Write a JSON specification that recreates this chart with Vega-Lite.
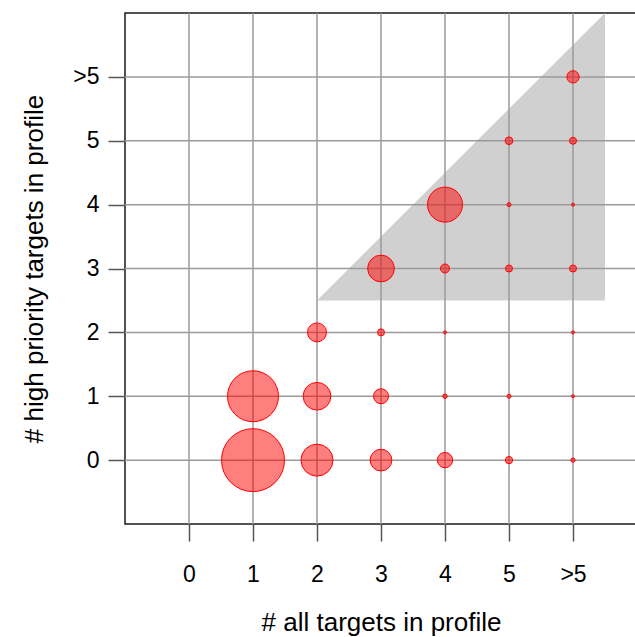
{
  "$schema": "https://vega.github.io/schema/vega-lite/v6.json",
  "width": 512,
  "height": 511,
  "autosize": {"type": "none"},
  "padding": {"left": 125, "top": 13, "right": 0, "bottom": 113},
  "background": "white",
  "config": {
    "view": {"stroke": "#1a1a1a", "strokeWidth": 1.5},
    "axis": {
      "grid": false,
      "domain": false,
      "ticks": true,
      "tickSize": 17,
      "tickColor": "#555555",
      "tickWidth": 1.5,
      "labelFont": "Liberation Sans",
      "labelFontSize": 23,
      "labelColor": "#000000",
      "titleFont": "Liberation Sans",
      "titleFontSize": 26,
      "titleFontWeight": "normal",
      "titleColor": "#000000"
    }
  },
  "datasets": {
    "pts": [
      {"all": 1, "high": 0, "n": 3969},
      {"all": 1, "high": 1, "n": 2601},
      {"all": 2, "high": 0, "n": 1024},
      {"all": 2, "high": 1, "n": 767},
      {"all": 2, "high": 2, "n": 361},
      {"all": 3, "high": 0, "n": 471},
      {"all": 3, "high": 1, "n": 225},
      {"all": 3, "high": 2, "n": 49},
      {"all": 3, "high": 3, "n": 713},
      {"all": 4, "high": 0, "n": 234},
      {"all": 4, "high": 1, "n": 20},
      {"all": 4, "high": 2, "n": 9},
      {"all": 4, "high": 3, "n": 81},
      {"all": 4, "high": 4, "n": 1225},
      {"all": 5, "high": 0, "n": 53},
      {"all": 5, "high": 1, "n": 16},
      {"all": 5, "high": 3, "n": 49},
      {"all": 5, "high": 4, "n": 16},
      {"all": 5, "high": 5, "n": 59},
      {"all": 6, "high": 0, "n": 18},
      {"all": 6, "high": 1, "n": 9},
      {"all": 6, "high": 2, "n": 9},
      {"all": 6, "high": 3, "n": 49},
      {"all": 6, "high": 4, "n": 9},
      {"all": 6, "high": 5, "n": 49},
      {"all": 6, "high": 6, "n": 151}
    ],
    "grid": [{"v": 0}, {"v": 1}, {"v": 2}, {"v": 3}, {"v": 4}, {"v": 5}, {"v": 6}],
    "shade": [
      {"all": 2, "lo": 2.5, "hi": 2.5},
      {"all": 6.5, "lo": 2.5, "hi": 7}
    ]
  },
  "layer": [
    {
      "data": {"name": "shade"},
      "mark": {"type": "area", "fill": "#d0d0d0", "opacity": 1, "stroke": null},
      "encoding": {
        "x": {
          "field": "all", "type": "quantitative",
          "scale": {"domain": [-1, 7], "nice": false, "zero": false},
          "axis": {
            "values": [0, 1, 2, 3, 4, 5, 6],
            "labelExpr": "datum.value == 6 ? '>5' : datum.value",
            "labelPadding": 22,
            "title": "# all targets in profile",
            "titlePadding": 23
          }
        },
        "y": {
          "field": "lo", "type": "quantitative",
          "scale": {"domain": [-1, 7], "nice": false, "zero": false},
          "axis": {
            "values": [0, 1, 2, 3, 4, 5, 6],
            "labelExpr": "datum.value == 6 ? '>5' : datum.value",
            "labelPadding": 9,
            "title": "# high priority targets in profile",
            "titlePadding": 25
          }
        },
        "y2": {"field": "hi"}
      }
    },
    {
      "data": {"name": "grid"},
      "mark": {"type": "rule", "color": "#9a9a9a", "strokeWidth": 1.5},
      "encoding": {"x": {"field": "v", "type": "quantitative"}}
    },
    {
      "data": {"name": "grid"},
      "mark": {"type": "rule", "color": "#9a9a9a", "strokeWidth": 1.5},
      "encoding": {"y": {"field": "v", "type": "quantitative"}}
    },
    {
      "data": {"name": "pts"},
      "mark": {"type": "circle", "fill": "#ff0000", "fillOpacity": 0.5, "stroke": "#ff0000", "strokeWidth": 1, "opacity": 1},
      "encoding": {
        "x": {"field": "all", "type": "quantitative"},
        "y": {"field": "high", "type": "quantitative"},
        "size": {
          "field": "n", "type": "quantitative",
          "scale": {"domain": [0, 4000], "range": [0, 4000], "zero": true},
          "legend": null
        }
      }
    }
  ]
}
